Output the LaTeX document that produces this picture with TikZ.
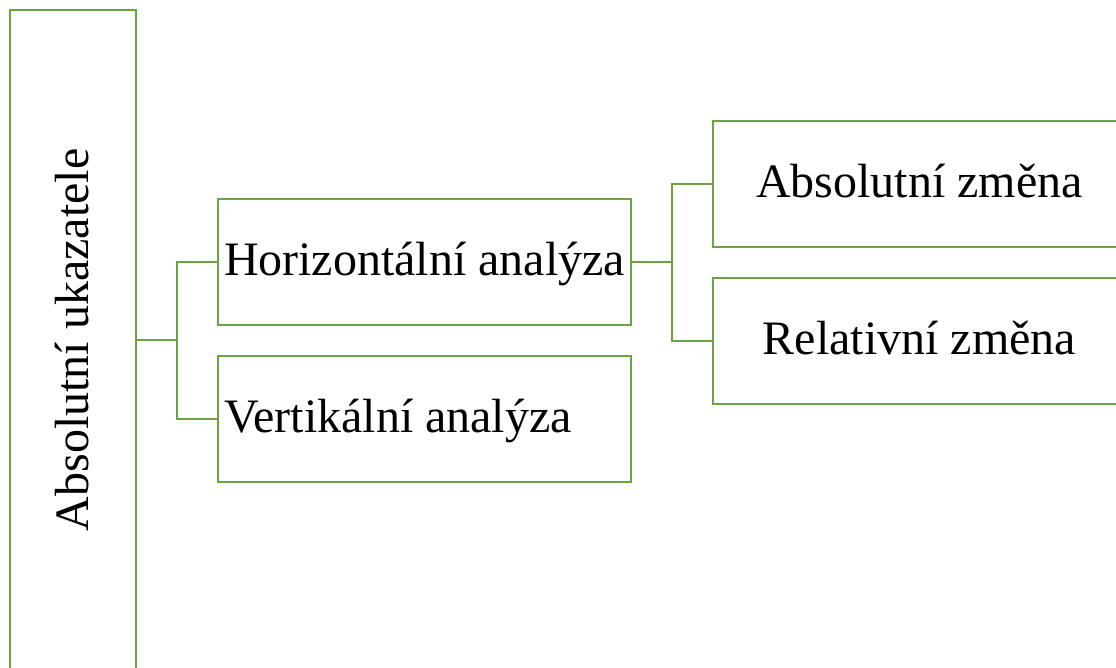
\documentclass[tikz,border=0pt]{standalone}
\usepackage{fontspec}
\setmainfont{Liberation Serif}
\definecolor{leafgreen}{RGB}{106,164,66}
\newcommand{\flushtext}[1]{\makebox[401pt][l]{#1}}
\newcommand{\uptext}[1]{\rotatebox{90}{\raisebox{-15.8pt}[0pt][0pt]{#1}}}
\tikzset{
  box/.style={draw=leafgreen, line width=2pt, fill=white, rectangle,
    inner sep=0pt, font=\fontsize{48}{58}\selectfont,
    text height=34pt, text depth=7pt},
  upbox/.style={draw=leafgreen, line width=2pt, fill=white, rectangle,
    inner sep=0pt, font=\fontsize{48}{58}\selectfont},
  wire/.style={draw=leafgreen, line width=2pt}
}
\begin{document}
\begin{tikzpicture}[x=1pt, y=-1pt]
  \useasboundingbox (0,0) rectangle (1116,668);
  \clip (0,0) rectangle (1116,668);
  \fill[white] (0,0) rectangle (1116,668);

  % root column with upright-reading label
  \node[upbox, minimum width=126pt, minimum height=660pt] (L) at (73,340)
    {\uptext{Absolutní ukazatele}};

  % second level, text set flush left
  \node[box, minimum height=126pt, inner xsep=6pt] (H) at (424.5,262)
    {\flushtext{Horizontální analýza}};
  \node[box, minimum height=126pt, inner xsep=6pt] (V) at (424.5,419)
    {\flushtext{Vertikální analýza}};

  % third level, centred text
  \node[box, minimum width=413pt, minimum height=126pt] (A) at (919.5,184) {Absolutní změna};
  \node[box, minimum width=413pt, minimum height=126pt] (R) at (919.5,341) {Relativní změna};

  % connectors
  \coordinate (j1) at (177,340);
  \coordinate (j2) at (672,262);
  \draw[wire] (L.east) -- (j1);
  \draw[wire] (j1) |- (H.west);
  \draw[wire] (j1) |- (V.west);
  \draw[wire] (H.east) -- (j2);
  \draw[wire] (j2) |- (A.west);
  \draw[wire] (j2) |- (R.west);
\end{tikzpicture}
\end{document}
